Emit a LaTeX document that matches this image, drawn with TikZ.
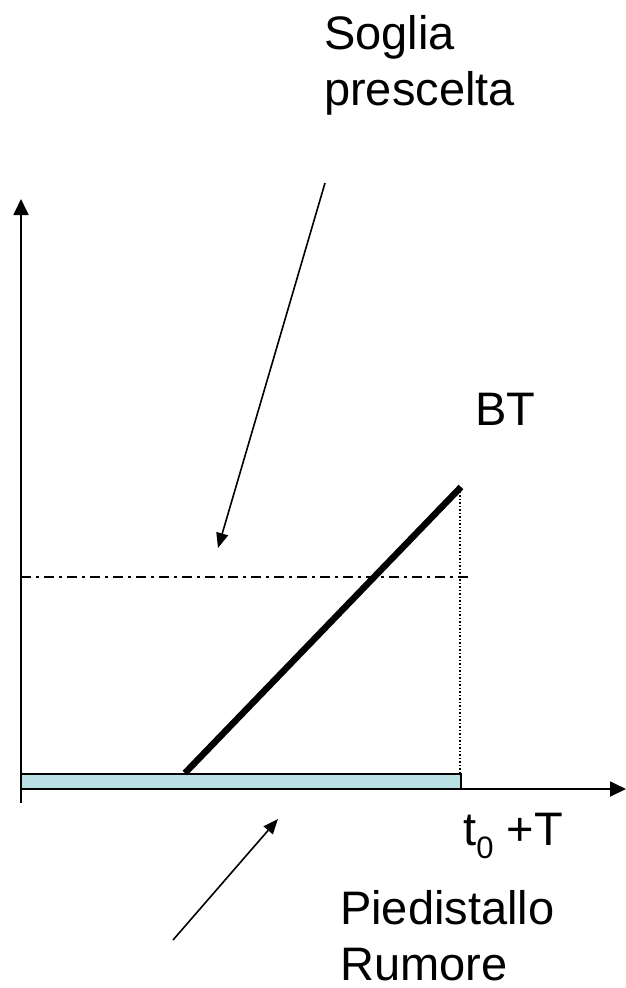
\documentclass[tikz,border=0pt]{standalone}
\usepackage{fontspec}
\setmainfont{Liberation Sans}
\usetikzlibrary{arrows.meta}
\definecolor{pedfill}{RGB}{185,224,227}
\tikzset{
  axis/.style={line width=1.8pt,-{Triangle[length=16pt,width=15pt]}},
  pointer/.style={line width=1.6pt,-{Triangle[length=15pt,width=12pt]}},
  lbl/.style={inner sep=0pt,anchor=base west,font=\fontsize{47}{56}\selectfont,align=left},
}
\newcommand{\mysub}[1]{\raisebox{-13pt}{\fontsize{31}{31}\selectfont #1}}
\begin{document}
\begin{tikzpicture}[x=1pt,y=-1pt]
\useasboundingbox (0,0) rectangle (626,988);
% coordinates
\coordinate (yb) at (21,803);
\coordinate (yt) at (21,199);
\coordinate (xl) at (21,789);
\coordinate (xr) at (626,789);
% pedestal
\draw[line width=1.8pt,fill=pedfill] (21,774) rectangle (461,789);
% axes
\draw[axis] (yb) -- (yt);
\draw[axis] (xl) -- (xr);
% threshold
\coordinate (th1) at (21,577);
\coordinate (th2) at (469,577);
\draw[line width=1.3pt,dash pattern=on 10pt off 5pt on 3pt off 5pt] (th1) -- (th2);
% vertical dotted
\coordinate (vtop) at (460,488);
\coordinate (vbot) at (460,774);
\draw[line width=1.4pt,dash pattern=on 1.5pt off 2pt] (vtop) -- (vbot);
% ramp
\coordinate (r1) at (185,773);
\coordinate (r2) at (461,487);
\draw[line width=6.5pt] (r1) -- (r2);
% labels (base = baseline of last line)
\node[lbl] (soglia) at (324,105) {Soglia\\prescelta};
\node[lbl] (bt) at (475,425) {BT};
\node[lbl] (t0) at (463,845) {t\mysub{0} +T};
\node[lbl] (ped) at (340,980) {Piedistallo\\Rumore};
% pointers
\coordinate (p1s) at (325,183);
\coordinate (p1e) at (218,548);
\draw[pointer] (p1s) -- (p1e);
\coordinate (p2s) at (173,940);
\coordinate (p2e) at (278,819);
\draw[pointer] (p2s) -- (p2e);
\end{tikzpicture}
\end{document}
